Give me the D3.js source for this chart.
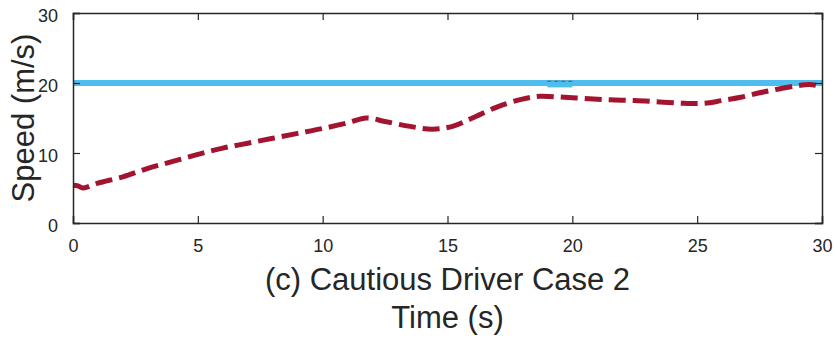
<!DOCTYPE html>
<html><head><meta charset="utf-8">
<script src="https://cdn.jsdelivr.net/npm/d3@7"></script>
<style>body{margin:0;background:#fff}svg{display:block}</style>
</head><body>
<svg id="chart" width="834" height="337"></svg>
<script>
// ---- data ----
const xTicks = [0, 5, 10, 15, 20, 25, 30];
const yTicks = [0, 10, 20, 30];
const refTime = [0, 30];
const refSpeed = [20, 20];
const bumpTime = [19.0, 20.0];
const bumpSpeed = [19.8, 19.8];
const egoTime =  [0, 0.2, 0.4, 1, 2, 3, 4, 5, 6, 7, 8, 9, 10, 11, 11.75, 12.5, 13.5, 14.4, 15.2, 16, 17, 18, 18.7, 19.5, 20.5, 21.5, 22.5, 23.5, 24.5, 25.3, 26, 26.8, 27.5, 28.2, 29, 29.5, 30];
const egoSpeed = [5.4, 5.3, 5.0, 5.7, 6.6, 7.8, 8.8, 9.8, 10.7, 11.4, 12.1, 12.8, 13.5, 14.3, 15.0, 14.5, 13.8, 13.4, 13.8, 15.0, 16.6, 17.7, 18.1, 18.0, 17.8, 17.6, 17.5, 17.3, 17.1, 17.1, 17.5, 18.0, 18.6, 19.1, 19.6, 19.8, 19.5];
const xLabel = "Time (s)";
const yLabel = "Speed (m/s)";
const caption = "(c) Cautious Driver Case 2";

// ---- layout ----
const W = 834, H = 337;
const m = {left: 73, right: 12, top: 13, bottom: 114};
const iw = W - m.left - m.right, ih = H - m.top - m.bottom;
const svg = d3.select("#chart");
const g = svg.append("g").attr("transform", `translate(${m.left},${m.top})`);
const x = d3.scaleLinear().domain([0, 30]).range([0, iw]);
const y = d3.scaleLinear().domain([0, 30]).range([ih, 0]);
const axisColor = "#262626";
const font = "'Liberation Sans', Arial, Helvetica, sans-serif";

// lines
const line = d3.line().x((d) => x(d[0])).y((d) => y(d[1]));
g.append("path").datum(refTime.map((t, i) => [t, refSpeed[i]]))
  .attr("d", line).attr("fill", "none").attr("stroke", "#4DBEEE").attr("stroke-width", 6);
g.append("path").datum(bumpTime.map((t, i) => [t, bumpSpeed[i]]))
  .attr("d", line).attr("fill", "none").attr("stroke", "#4DBEEE").attr("stroke-width", 6);
g.append("path").datum(bumpTime.map((t) => [t, 20.25]))
  .attr("d", line).attr("fill", "none").attr("stroke", "#7E2F8E").attr("stroke-width", 1)
  .attr("stroke-dasharray", "4,3");
g.append("path").datum(bumpTime.map((t) => [t, 20.25]))
  .attr("d", line).attr("fill", "none").attr("stroke", "#77AC30").attr("stroke-width", 1)
  .attr("stroke-dasharray", "3,4").attr("stroke-dashoffset", 4);

const smooth = d3.line().x((d) => x(d[0])).y((d) => y(d[1])).curve(d3.curveCatmullRom);
g.append("path").datum(egoTime.map((t, i) => [t, egoSpeed[i]]))
  .attr("d", smooth).attr("fill", "none").attr("stroke", "#A2142F").attr("stroke-width", 5)
  .attr("stroke-dasharray", "17,7");

// axes (box with inward ticks)
const tl = 7;
const axB = g.append("g").attr("transform", `translate(0,${ih})`)
  .call(d3.axisBottom(x).tickValues(xTicks).tickSize(-tl).tickPadding(tl + 9));
const axT = g.append("g").call(d3.axisTop(x).tickValues(xTicks).tickSize(-tl).tickFormat(""));
const axL = g.append("g").call(d3.axisLeft(y).tickValues(yTicks).tickSize(-tl).tickPadding(tl + 8));
const axR = g.append("g").attr("transform", `translate(${iw},0)`)
  .call(d3.axisRight(y).tickValues(yTicks).tickSize(-tl).tickFormat(""));
[axB, axT, axL, axR].forEach((a) => {
  a.select(".domain").attr("stroke", axisColor).attr("stroke-width", 1.5);
  a.selectAll(".tick line").attr("stroke", axisColor).attr("stroke-width", 1.2);
  a.selectAll(".tick text").attr("fill", axisColor).style("font-family", font).style("font-size", "18px");
});
axL.selectAll(".tick text").attr("dy", "0.45em");

// labels
svg.append("text").attr("x", m.left + iw / 2).attr("y", 290)
  .attr("text-anchor", "middle").attr("fill", axisColor)
  .style("font-family", font).style("font-size", "31px").text(caption);
svg.append("text").attr("x", m.left + iw / 2).attr("y", 328)
  .attr("text-anchor", "middle").attr("fill", axisColor)
  .style("font-family", font).style("font-size", "31px").text(xLabel);
svg.append("text").attr("transform", `translate(34,${m.top + ih / 2}) rotate(-90)`)
  .attr("text-anchor", "middle").attr("fill", axisColor)
  .style("font-family", font).style("font-size", "31px").text(yLabel);
</script>
</body></html>
